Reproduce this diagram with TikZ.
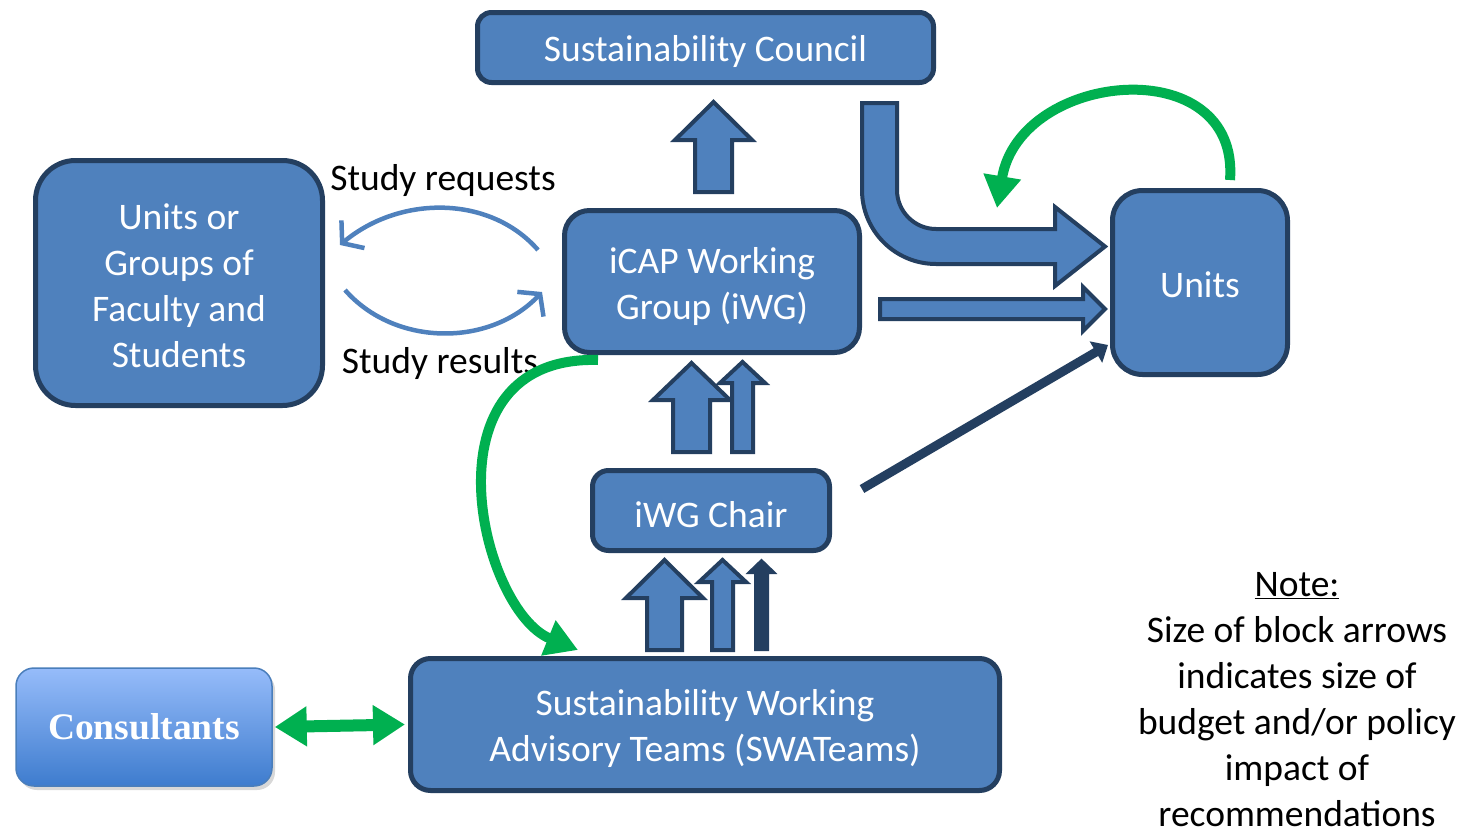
\documentclass[tikz,border=0pt]{standalone}
\usepackage{fontspec}
\setmainfont{Carlito}
\newfontfamily\timesfont{Liberation Serif}
\usetikzlibrary{arrows.meta,shadows}
\definecolor{boxfill}{RGB}{79,129,189}
\definecolor{boxline}{RGB}{36,63,96}
\definecolor{grn}{RGB}{0,176,80}
\definecolor{ctop}{RGB}{150,188,250}
\definecolor{cbot}{RGB}{62,124,206}
\definecolor{cline}{RGB}{74,126,187}
\tikzset{
  box/.style={draw=boxline, fill=boxfill, line width=5pt, inner sep=0pt},
  intext/.style={text=white, align=center, font=\fontsize{37.5}{46}\selectfont, inner sep=0pt, yshift=-4pt},
  blockarrow/.style={draw=boxline, fill=boxfill, line width=4pt, line join=miter},
  thinblock/.style={draw=boxline, fill=boxline, line width=2pt, line join=miter},
  greenarrow/.style={draw=grn, line width=10pt, -{Triangle[length=32pt,width=36pt]}},
  studyarrow/.style={draw=boxfill, line width=4.5pt, -{Straight Barb[length=14pt,width=36pt]}},
  lbl/.style={font=\fontsize{37.5}{46}\selectfont, text=black, inner sep=0pt, align=center}
}
\begin{document}
\begin{tikzpicture}[x=1pt,y=-1pt]
\useasboundingbox[fill=white] (0,0) rectangle (1468,835);

% boxes
\node[box, minimum width=456pt, minimum height=70pt, rounded corners=14pt,
  label={[intext]center:Sustainability Council}] (council) at (705.5,47.5) {};
\node[box, minimum width=287pt, minimum height=245pt, rounded corners=40pt,
  label={[intext, yshift=1pt]center:{Units or\\Groups of\\Faculty and\\Students}}] (groups) at (179,283) {};
\node[box, minimum width=295pt, minimum height=142pt, rounded corners=25pt,
  label={[intext, yshift=-1pt]center:{iCAP Working\\Group (iWG)}}] (icap) at (712,281.5) {};
\node[box, minimum width=175pt, minimum height=184pt, rounded corners=30pt,
  label={[intext, yshift=2pt]center:Units}] (units) at (1200,282.5) {};
\node[box, minimum width=237pt, minimum height=80pt, rounded corners=16pt,
  label={[intext]center:iWG Chair}] (chair) at (711,510.5) {};
\node[box, minimum width=589pt, minimum height=132pt, rounded corners=20pt,
  label={[intext]center:{Sustainability Working\\Advisory Teams (SWATeams)}}] (swat) at (705,724.5) {};
\node[draw=cline, line width=1.5pt, top color=ctop, bottom color=cbot, rounded corners=18pt,
  minimum width=256pt, minimum height=118pt, text=white, inner sep=0pt,
  font=\timesfont\bfseries\fontsize{37.5}{46}\selectfont,
  drop shadow={shadow xshift=3pt, shadow yshift=-4pt, fill=black!30}] (consult) at (144,727) {Consultants};

% block arrows
\path[blockarrow] (695,192) -- (695,140) -- (675,140) -- (713.5,102) -- (752,140) -- (732,140) -- (732,192) -- cycle;
\path[blockarrow] (862,103) -- (862,190) .. controls (862,230.9) and (895.1,264) .. (936,264)
  -- (1055,264) -- (1055,286) -- (1105,246.5) -- (1055,207) -- (1055,229) -- (936,229)
  .. controls (914.5,229) and (897,211.5) .. (897,190) -- (897,103) -- cycle;
\path[blockarrow] (880,299) -- (1083,299) -- (1083,287) -- (1105,309) -- (1083,331) -- (1083,319) -- (880,319) -- cycle;

% arrows between iWG chair and iCAP
\path[blockarrow] (673,452) -- (673,400) -- (653,400) -- (691.5,363) -- (730,400) -- (710,400) -- (710,452) -- cycle;
\path[blockarrow] (732,452) -- (732,383) -- (720,383) -- (742.5,362) -- (765,383) -- (753,383) -- (753,452) -- cycle;

% arrows between SWATeams and chair
\path[blockarrow] (647,650) -- (647,598) -- (626,598) -- (664.5,560) -- (703,598) -- (682,598) -- (682,650) -- cycle;
\path[blockarrow] (712,650) -- (712,582) -- (699,582) -- (722.5,560) -- (746,582) -- (733,582) -- (733,650) -- cycle;
\path[thinblock] (755,650) -- (755,573) -- (748,573) -- (761.5,560) -- (775,573) -- (768,573) -- (768,650) -- cycle;

% diagonal connector chair -> units
\coordinate (diagA) at (862,489);
\coordinate (diagB) at (1108,345);
\draw[boxline, line width=9pt, -{Triangle[length=14pt,width=24pt]}] (diagA) -- (diagB);

% study arrows
\coordinate (reqA) at (538,250);
\coordinate (reqB) at (340,245);
\coordinate (resA) at (345,290);
\coordinate (resB) at (542,292);
\draw[studyarrow] (reqA) .. controls (490,195) and (400,195) .. (reqB);
\draw[studyarrow] (resA) .. controls (395,347) and (490,347) .. (resB);
\node[lbl] (req) at (443,181) {Study requests};
\node[lbl] (res) at (440,363) {Study results};

% green arrows
\coordinate (g1a) at (1230,180);
\coordinate (g1b) at (997,208);
\draw[greenarrow] (g1a) .. controls (1240,50) and (1020,70) .. (g1b);
\coordinate (g2a) at (598,360);
\coordinate (g2b) at (578,650);
\draw[greenarrow] (g2a) .. controls (420,355) and (480,610) .. (g2b);
\draw[draw=grn, line width=12pt, {Triangle[length=32pt,width=38pt]}-{Triangle[length=32pt,width=38pt]}] ([xshift=2pt]consult.east) -- ([xshift=-3pt]swat.west);

% note
\node[lbl] (note) at (1297,700) {\underline{Note:}\\Size of block arrows\\indicates size of\\budget and/or policy\\impact of\\recommendations};
\end{tikzpicture}
\end{document}
